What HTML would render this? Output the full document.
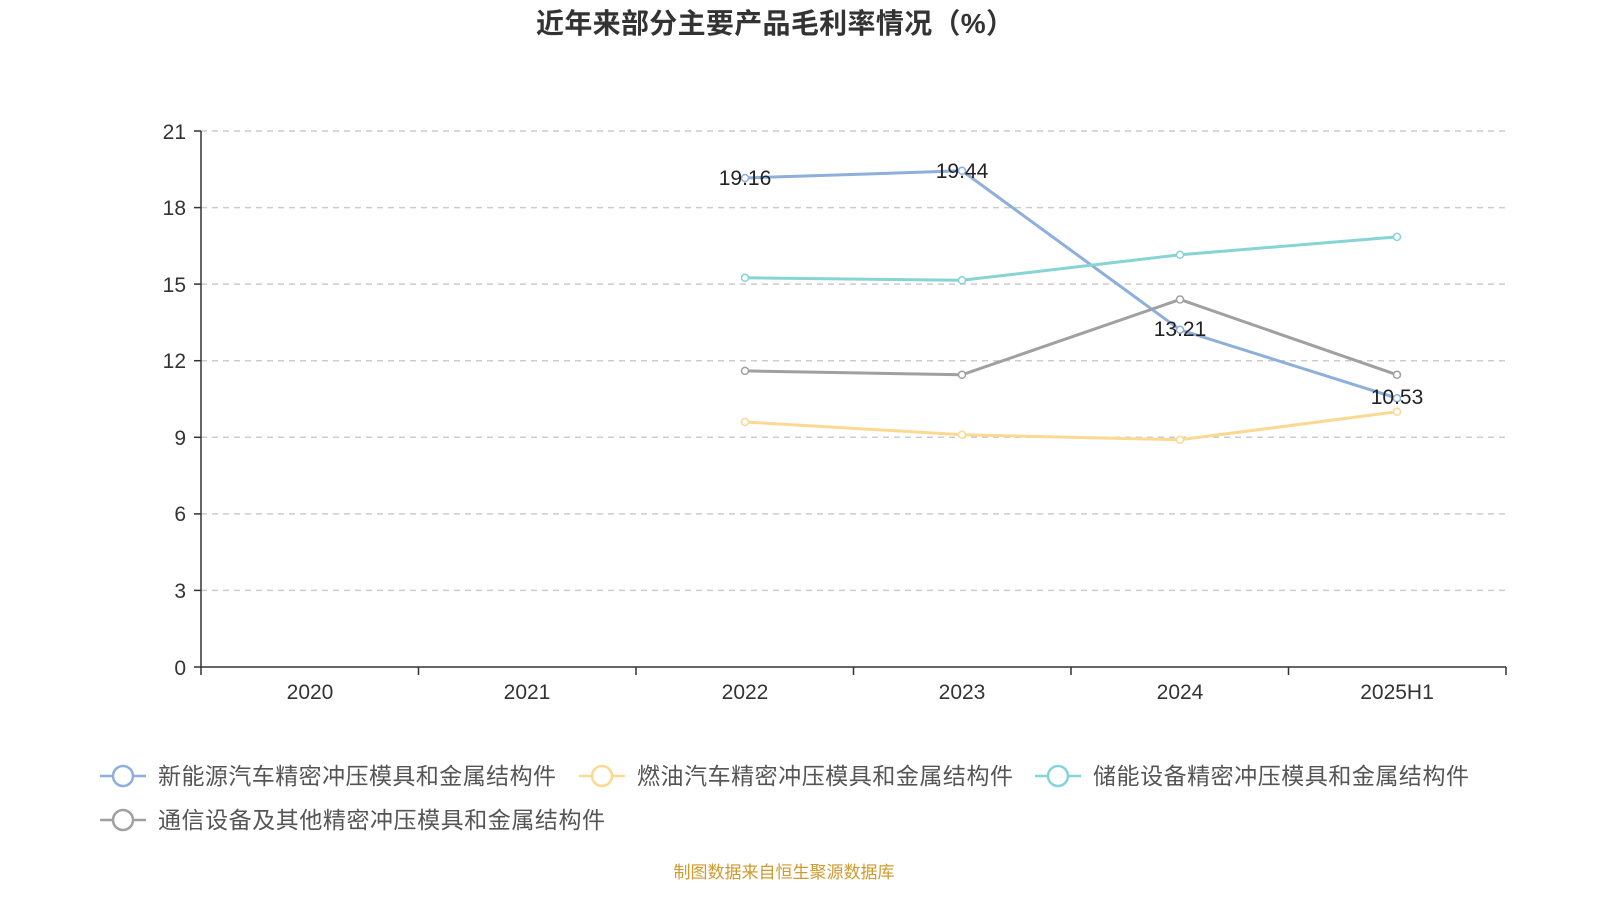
<!DOCTYPE html>
<html><head><meta charset="utf-8"><style>
body{margin:0;background:#fff}
svg text{font-family:"Liberation Sans","Noto Sans CJK SC",sans-serif}
</style></head><body>
<svg width="1600" height="900" xmlns="http://www.w3.org/2000/svg">
<text x="775" y="33" text-anchor="middle" font-size="28" font-weight="bold" fill="#333" textLength="478">近年来部分主要产品毛利率情况（%）</text>
<g stroke="#ccc" stroke-dasharray="6,5" stroke-width="1.5">
<line x1="201" x2="1506" y1="131" y2="131"/><line x1="201" x2="1506" y1="207.6" y2="207.6"/>
<line x1="201" x2="1506" y1="284.1" y2="284.1"/><line x1="201" x2="1506" y1="360.7" y2="360.7"/>
<line x1="201" x2="1506" y1="437.3" y2="437.3"/><line x1="201" x2="1506" y1="513.9" y2="513.9"/>
<line x1="201" x2="1506" y1="590.4" y2="590.4"/>
</g>
<g stroke="#333" stroke-width="1.5">
<line x1="201" x2="201" y1="131" y2="667"/><line x1="201" x2="1506" y1="667" y2="667"/>
<line x1="194" x2="201" y1="131" y2="131"/><line x1="194" x2="201" y1="207.6" y2="207.6"/><line x1="194" x2="201" y1="284.1" y2="284.1"/><line x1="194" x2="201" y1="360.7" y2="360.7"/><line x1="194" x2="201" y1="437.3" y2="437.3"/><line x1="194" x2="201" y1="513.9" y2="513.9"/><line x1="194" x2="201" y1="590.4" y2="590.4"/><line x1="194" x2="201" y1="667" y2="667"/>
<line x1="201" x2="201" y1="667" y2="675"/><line x1="418.5" x2="418.5" y1="667" y2="675"/><line x1="636" x2="636" y1="667" y2="675"/><line x1="853.5" x2="853.5" y1="667" y2="675"/><line x1="1071" x2="1071" y1="667" y2="675"/><line x1="1288.5" x2="1288.5" y1="667" y2="675"/><line x1="1506" x2="1506" y1="667" y2="675"/>
</g>
<g font-size="21" fill="#333" text-anchor="end">
<text x="186" y="139">21</text><text x="186" y="215">18</text><text x="186" y="292">15</text><text x="186" y="368">12</text><text x="186" y="445">9</text><text x="186" y="521">6</text><text x="186" y="598">3</text><text x="186" y="675">0</text>
</g>
<g font-size="21" fill="#333" text-anchor="middle">
<text x="310" y="699">2020</text><text x="527" y="699">2021</text><text x="745" y="699">2022</text><text x="962" y="699">2023</text><text x="1180" y="699">2024</text><text x="1397" y="699">2025H1</text>
</g>
<g fill="#fff" stroke-width="3" fill-opacity="1">
<polyline fill="none" stroke="#8eaedc" points="745,178 962,170.8 1180,329.8 1397,398.2"/>
<polyline fill="none" stroke="#86d4d4" points="745,277.8 962,280.3 1180,254.8 1397,236.9"/>
<polyline fill="none" stroke="#a0a0a0" points="745,370.9 962,374.8 1180,299.5 1397,374.8"/>
<polyline fill="none" stroke="#fbd992" points="745,422 962,434.7 1180,439.8 1397,411.8"/>
</g>
<g fill="#fff" stroke-width="1.5">
<g stroke="#8eaedc"><circle cx="745" cy="178" r="3.5"/><circle cx="962" cy="170.8" r="3.5"/><circle cx="1180" cy="329.8" r="3.5"/><circle cx="1397" cy="398.2" r="3.5"/></g>
<g stroke="#86d4d4"><circle cx="745" cy="277.8" r="3.5"/><circle cx="962" cy="280.3" r="3.5"/><circle cx="1180" cy="254.8" r="3.5"/><circle cx="1397" cy="236.9" r="3.5"/></g>
<g stroke="#a0a0a0"><circle cx="745" cy="370.9" r="3.5"/><circle cx="962" cy="374.8" r="3.5"/><circle cx="1180" cy="299.5" r="3.5"/><circle cx="1397" cy="374.8" r="3.5"/></g>
<g stroke="#fbd992"><circle cx="745" cy="422" r="3.5"/><circle cx="962" cy="434.7" r="3.5"/><circle cx="1180" cy="439.8" r="3.5"/><circle cx="1397" cy="411.8" r="3.5"/></g>
</g>
<g font-size="21" fill="#222" text-anchor="middle">
<text x="745" y="185">19.16</text><text x="962" y="178">19.44</text><text x="1180" y="336">13.21</text><text x="1397" y="404">10.53</text>
</g>
<g stroke-width="2.5" fill="#fff">
<line x1="100" x2="146" y1="776" y2="776" stroke="#8eaedc"/><circle cx="123" cy="776" r="10" stroke="#8eaedc"/>
<line x1="579" x2="625" y1="776" y2="776" stroke="#fbd992"/><circle cx="602" cy="776" r="10" stroke="#fbd992"/>
<line x1="1035" x2="1081" y1="776" y2="776" stroke="#86d4d4"/><circle cx="1058" cy="776" r="10" stroke="#86d4d4"/>
<line x1="100" x2="146" y1="820" y2="820" stroke="#a0a0a0"/><circle cx="123" cy="820" r="10" stroke="#a0a0a0"/>
</g>
<g font-size="23" fill="#555">
<text x="158" y="784" textLength="398">新能源汽车精密冲压模具和金属结构件</text>
<text x="637" y="784" textLength="376">燃油汽车精密冲压模具和金属结构件</text>
<text x="1093" y="784" textLength="376">储能设备精密冲压模具和金属结构件</text>
<text x="158" y="828" textLength="447">通信设备及其他精密冲压模具和金属结构件</text>
</g>
<text x="784" y="878" text-anchor="middle" font-size="17" fill="#d09a2e">制图数据来自恒生聚源数据库</text>
</svg>
</body></html>
